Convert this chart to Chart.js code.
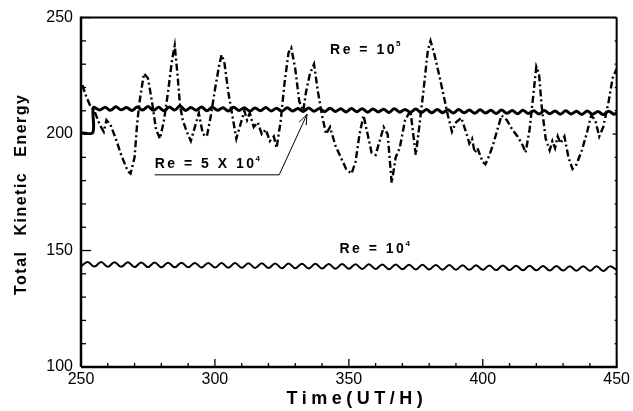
<!DOCTYPE html>
<html>
<head>
<meta charset="utf-8">
<script src="https://cdn.jsdelivr.net/npm/chart.js@4.4.1/dist/chart.umd.min.js"></script>
<style>
  html, body { margin: 0; padding: 0; background: #fff; }
  #c { display: block; }
</style>
</head>
<body>
<canvas id="c" width="633" height="411"></canvas>
<script>
// Re = 10^4 : small regular wave near 143
const timeRe1e4 = [250, 252.5, 255, 257.5, 260, 262.5, 265, 267.5, 270, 272.5, 275, 277.5, 280, 282.5, 285, 287.5,
  290, 292.5, 295, 297.5, 300, 302.5, 305, 307.5, 310, 312.5, 315, 317.5, 320, 322.5, 325, 327.5,
  330, 332.5, 335, 337.5, 340, 342.5, 345, 347.5, 350, 352.5, 355, 357.5, 360, 362.5, 365, 367.5,
  370, 372.5, 375, 377.5, 380, 382.5, 385, 387.5, 390, 392.5, 395, 397.5, 400, 402.5, 405, 407.5,
  410, 412.5, 415, 417.5, 420, 422.5, 425, 427.5, 430, 432.5, 435, 437.5, 440, 442.5, 445, 447.5, 450];
const energyRe1e4 = [143.2, 145.1, 143.1, 145.1, 143.0, 145.0, 143.0, 145.0, 142.9, 144.9, 142.9, 144.9, 142.8, 144.8, 142.8, 144.8,
  142.8, 144.7, 142.7, 144.7, 142.7, 144.6, 142.6, 144.6, 142.6, 144.5, 142.5, 144.5, 142.5, 144.4, 142.4, 144.4,
  142.4, 144.3, 142.3, 144.3, 142.3, 144.2, 142.2, 144.2, 142.2, 144.1, 142.1, 144.1, 142.1, 144.0, 142.0, 144.0,
  142.0, 143.9, 141.9, 143.9, 141.9, 143.8, 141.8, 143.8, 141.8, 143.7, 141.7, 143.7, 141.7, 143.6, 141.6, 143.6,
  141.6, 143.5, 141.5, 143.5, 141.5, 143.4, 141.4, 143.4, 141.4, 143.3, 141.3, 143.3, 141.3, 143.2, 141.2, 143.2, 141.6];

// Re = 5 x 10^4 : step at start, then wiggly line near 210
const timeRe5e4 = [250, 254.4, 254.6, 257, 259, 261, 263, 265, 267, 269, 271, 273, 275, 277, 279, 281, 283, 285, 287, 289,
  291, 293, 295, 297, 299, 301, 303, 305, 307, 309, 311, 313, 315, 317, 319, 321, 323, 325, 327, 329,
  331, 333, 335, 337, 339, 341, 343, 345, 347, 349, 351, 353, 355, 357, 359, 361, 363, 365, 367, 369,
  371, 373, 375, 377, 379, 381, 383, 385, 387, 389, 391, 393, 395, 397, 399, 401, 403, 405, 407, 409,
  411, 413, 415, 417, 419, 421, 423, 425, 427, 429, 431, 433, 435, 437, 439, 441, 443, 445, 447, 449, 450];
const energyRe5e4 = [200.6, 200.6, 211.4, 210.3, 211.5, 210.2, 211.7, 210.4, 211.4, 210.1, 211.6, 210.3, 211.8, 210.2, 211.5, 210.0, 211.6, 210.3, 212.0, 210.1,
  211.4, 210.2, 211.6, 210.0, 211.5, 210.2, 211.3, 209.9, 211.5, 210.1, 211.3, 209.8, 211.2, 210.0, 211.4, 209.9, 211.1, 209.8, 211.3, 209.9,
  211.0, 209.7, 211.2, 209.8, 211.0, 209.6, 211.1, 209.7, 210.9, 209.5, 211.0, 209.6, 210.9, 209.4, 210.8, 209.5, 210.7, 209.3, 210.9, 209.4,
  210.6, 209.3, 210.8, 209.2, 210.5, 209.1, 210.6, 209.2, 210.4, 209.0, 210.5, 209.1, 210.3, 208.9, 210.4, 209.0, 210.2, 208.8, 210.3, 208.9,
  210.1, 208.7, 210.2, 208.8, 210.0, 208.6, 210.1, 208.7, 209.9, 208.5, 210.0, 208.6, 209.8, 208.4, 209.9, 208.5, 209.7, 208.4, 209.8, 208.5, 209.0];

// Re = 10^5 : strongly fluctuating dash-dot line
const timeRe1e5 = [250.5, 252, 253.5, 255, 257, 258.5, 259.5, 261, 263, 265, 267.5, 268.5, 270, 271, 272, 273.5, 275, 276.5, 278, 279.5,
  281, 282.5, 284, 285, 286, 287, 288, 289.5, 291, 292.5, 294, 295.5, 297, 298.5, 300, 301.5, 302.5, 303.5, 305, 306.5,
  308, 309.5, 311, 312, 313, 314.5, 316, 317.5, 319, 320.5, 322, 323, 324.5, 326, 327.5, 328.5, 330, 331.5, 333, 334, 335.5, 337, 338.5,
  340, 341.5, 343, 345, 347, 349, 351, 352.5, 354, 355.5, 357, 358.5, 360, 361.5, 363, 364.5, 366, 367.5, 369, 371,
  373, 375, 376.5, 378, 379.5, 380.5, 382, 384, 385.5, 387, 388.5, 390, 392, 394, 395, 396, 397, 398, 400, 401, 402.5, 404,
  405.5, 407, 409, 411, 413, 415, 416, 417.5, 419, 420, 421, 422, 423.5, 425, 426, 427, 428, 429, 430.5, 432, 433.5, 435,
  437, 439, 440.5, 442, 443.5, 445, 447, 448.5, 450];
const energyRe1e5 = [221, 216, 212, 210, 204, 201, 206, 204, 198, 191, 184, 183, 190, 205, 215, 226, 224, 214, 202, 198,
  206, 218, 232, 238, 226, 212, 206, 201, 197, 203, 209, 200, 199, 208, 219, 229, 234, 231, 218, 208,
  198, 204, 210, 206, 209, 203, 205, 200, 202, 197, 199, 194, 205, 222, 235, 237, 228, 214, 210, 218, 226, 230, 218,
  208, 200, 203, 195, 190, 185, 183, 188, 200, 208, 200, 192, 191, 197, 203, 200, 179, 190, 194, 206,
  210, 191, 205, 220, 236, 240, 234, 224, 216, 208, 201, 205, 207, 200, 196, 198, 192, 194, 188, 187, 191, 196,
  202, 208, 206, 202, 199, 195, 192, 202, 218, 229, 226, 212, 198, 193, 197, 194, 199, 196, 199, 190, 185, 187,
  193, 201, 208, 206, 199, 203, 214, 224, 228];

const xTickStep = 10;
const yTickStep = 10;
const majorEvery = 50;

const FONT = '"Liberation Sans", Arial, Helvetica, sans-serif';

function pts(ts, vs) { return ts.map((t, i) => ({ x: t, y: vs[i] })); }

// frame, inward ticks, axis titles and curve labels
const decor = {
  id: 'decor',
  afterDraw(chart) {
    const { ctx, chartArea: a, scales: { x, y } } = chart;
    ctx.save();
    ctx.strokeStyle = '#000';
    ctx.fillStyle = '#000';

    function seg(x1, y1, x2, y2) { ctx.beginPath(); ctx.moveTo(x1, y1); ctx.lineTo(x2, y2); ctx.stroke(); }

    ctx.lineWidth = 1.3;
    x.ticks.forEach(tk => {
      const px = x.getPixelForValue(tk.value);
      const major = tk.value % majorEvery === 0;
      seg(px, a.bottom, px, a.bottom - (major ? 8 : 4));
    });
    y.ticks.forEach(tk => {
      const py = y.getPixelForValue(tk.value);
      const major = tk.value % majorEvery === 0;
      seg(a.left, py, a.left + (major ? 10 : 5), py);
      seg(a.right, py, a.right - (major ? 4 : 2), py);
    });

    // box
    ctx.lineWidth = 2;
    seg(a.left, a.top, a.right, a.top);
    seg(a.right, a.top, a.right, a.bottom);
    ctx.lineWidth = 2.5;
    seg(a.left, a.top - 1, a.left, a.bottom);
    seg(a.left, a.bottom, a.right + 1, a.bottom);

    // axis titles
    ctx.textAlign = 'center';
    ctx.textBaseline = 'middle';
    ctx.font = 'bold 18px ' + FONT;
    ctx.letterSpacing = '4.5px';
    ctx.fillText('Time(UT/H)', (a.left + a.right) / 2 + 8, a.bottom + 32);

    ctx.save();
    ctx.translate(22, (a.top + a.bottom) / 2 + 2);
    ctx.rotate(-Math.PI / 2);
    ctx.font = 'bold 16px ' + FONT;
    ctx.letterSpacing = '1.5px';
    ctx.wordSpacing = '9px';
    ctx.fillText('Total Kinetic Energy', 0, 0);
    ctx.restore();

    // curve labels with superscripts
    function tag(base, sup, t, v) {
      const px = x.getPixelForValue(t), py = y.getPixelForValue(v);
      ctx.textAlign = 'left';
      ctx.textBaseline = 'middle';
      ctx.font = 'bold 14px ' + FONT;
      ctx.letterSpacing = '2.5px';
      ctx.fillText(base, px, py);
      const w = ctx.measureText(base).width;
      ctx.font = 'bold 8px ' + FONT;
      ctx.letterSpacing = '0px';
      ctx.fillText(sup, px + w - 1, py - 6);
    }
    tag('Re = 10', '5', 343, 236);
    tag('Re = 5 X 10', '4', 277.5, 187);
    tag('Re = 10', '4', 346.5, 150.5);

    // pointer from the 5 x 10^4 label to its curve
    const u0 = x.getPixelForValue(277.5), u1 = x.getPixelForValue(324);
    const uy = y.getPixelForValue(182.5);
    const tipX = x.getPixelForValue(334.4), tipY = y.getPixelForValue(208.5);
    ctx.lineWidth = 1;
    seg(u0, uy, u1, uy);
    seg(u1, uy, tipX, tipY);
    const ang = Math.atan2(tipY - uy, tipX - u1);
    [0.35, -0.35].forEach(d => {
      seg(tipX, tipY, tipX - 11 * Math.cos(ang + d), tipY - 11 * Math.sin(ang + d));
    });

    ctx.restore();
  }
};

const tickFont = { family: FONT, size: 16 };

new Chart(document.getElementById('c').getContext('2d'), {
  type: 'line',
  data: {
    datasets: [
      {
        label: 'Re = 10^5',
        data: pts(timeRe1e5, energyRe1e5),
        borderColor: '#000',
        borderWidth: 2.4,
        borderDash: [7, 3, 2, 3],
        tension: 0,
        pointRadius: 0,
        fill: false
      },
      {
        label: 'Re = 5 X 10^4',
        data: pts(timeRe5e4, energyRe5e4),
        borderColor: '#000',
        borderWidth: 3,
        tension: 0.3,
        pointRadius: 0,
        fill: false
      },
      {
        label: 'Re = 10^4',
        data: pts(timeRe1e4, energyRe1e4),
        borderColor: '#000',
        borderWidth: 2,
        tension: 0.4,
        pointRadius: 0,
        fill: false
      }
    ]
  },
  options: {
    responsive: false,
    animation: false,
    events: [],
    layout: { padding: { left: 0, top: 15, right: 14, bottom: 0 } },
    plugins: { legend: { display: false }, tooltip: { enabled: false } },
    scales: {
      x: {
        type: 'linear',
        min: 250,
        max: 450,
        grid: { display: false, drawTicks: false },
        border: { display: false },
        ticks: {
          stepSize: xTickStep,
          autoSkip: false,
          maxRotation: 0,
          padding: 3,
          color: '#000',
          font: tickFont,
          callback: v => (v % majorEvery === 0 ? String(v) : '')
        },
        afterFit: s => { s.height = 44; }
      },
      y: {
        type: 'linear',
        min: 100,
        max: 250,
        grid: { display: false, drawTicks: false },
        border: { display: false },
        ticks: {
          stepSize: yTickStep,
          autoSkip: false,
          padding: 8,
          color: '#000',
          font: tickFont,
          callback: v => (v % majorEvery === 0 ? String(v) : '')
        },
        afterFit: s => { s.width = 81; }
      }
    }
  },
  plugins: [decor]
});
</script>
</body>
</html>
